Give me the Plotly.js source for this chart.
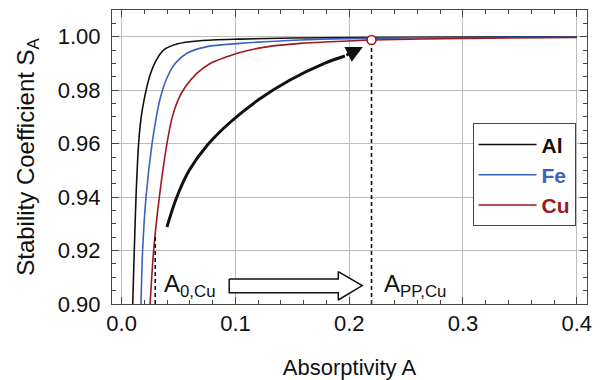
<!DOCTYPE html>
<html>
<head>
<meta charset="utf-8">
<script src="https://cdn.plot.ly/plotly-3.0.1.min.js"></script>
<style>html,body{margin:0;padding:0;background:#fff;}#chart{width:600px;height:380px;}</style>
</head>
<body>
<div id="chart"></div>
<script>
// Series names and colours
const seriesNames = ["Al", "Fe", "Cu"];
const seriesColors = ["#111111", "#3c62c0", "#9c1a1c"];

// Al
const alA = [0.0097, 0.0111, 0.0126, 0.0149, 0.0172, 0.0200, 0.0245, 0.0296, 0.0368, 0.0486, 0.069, 0.104, 0.15, 0.2, 0.3, 0.4];
const alS = [0.900, 0.920, 0.940, 0.960, 0.970, 0.977, 0.985, 0.9906, 0.995, 0.9973, 0.9985, 0.9991, 0.9995, 0.9997, 0.9999, 1.0];
// Fe
const feA = [0.0170, 0.0184, 0.0214, 0.0267, 0.0305, 0.0335, 0.0390, 0.0470, 0.0574, 0.0749, 0.104, 0.157, 0.2, 0.3, 0.4];
const feS = [0.900, 0.920, 0.940, 0.960, 0.970, 0.9763, 0.9838, 0.990, 0.9938, 0.9963, 0.9975, 0.9988, 0.9993, 0.9997, 0.9999];
// Cu
const cuA = [0.0250, 0.0281, 0.0331, 0.0398, 0.0445, 0.0495, 0.0560, 0.0661, 0.0778, 0.0925, 0.104, 0.1275, 0.157, 0.183, 0.2196, 0.3, 0.4];
const cuS = [0.900, 0.920, 0.940, 0.960, 0.970, 0.9763, 0.9813, 0.9863, 0.990, 0.9925, 0.9941, 0.9962, 0.9975, 0.9981, 0.99876, 0.9994, 0.9997];

// Annotation: curved arrow path
const arrowA = [0.0398, 0.0480, 0.0594, 0.0752, 0.0954, 0.1199, 0.1480, 0.1787, 0.1962];
const arrowS = [0.9288, 0.9395, 0.9500, 0.9594, 0.9680, 0.9763, 0.9838, 0.9901, 0.9928];
const arrowTip = [0.2120, 0.99614];

// Hollow block arrow outline
const blockA = [0.0945, 0.1904, 0.1904, 0.2114, 0.1904, 0.1904, 0.0945, 0.0945];
const blockS = [0.9094, 0.9094, 0.9121, 0.9069, 0.9015, 0.9042, 0.9042, 0.9094];

// Characteristic absorptivities of Cu
const a0Cu = [0.0295, 0.9255];   // A0,Cu and curve value
const appCu = [0.2196, 0.99876]; // APP,Cu and curve value

const xTicks = [0.0, 0.1, 0.2, 0.3, 0.4];
const yTicks = [0.90, 0.92, 0.94, 0.96, 0.98, 1.00];

const FONT = "Liberation Sans, Arial, Helvetica, sans-serif";

const curves = [[alA, alS], [feA, feS], [cuA, cuS]];
const traces = curves.map((c, i) => ({
  x: c[0], y: c[1], type: "scatter", mode: "lines",
  line: {color: seriesColors[i], width: 1.6, shape: "spline", smoothing: 0.8},
  name: '<b><span style="color:' + seriesColors[i] + '">' + seriesNames[i] + '</span></b>',
  hoverinfo: "skip"
}));

traces.push({
  x: [a0Cu[0], a0Cu[0]], y: [0.9, a0Cu[1]], type: "scatter", mode: "lines",
  line: {color: "#111", width: 1.6, dash: "4px,3px"}, showlegend: false, hoverinfo: "skip"
});
traces.push({
  x: [appCu[0], appCu[0]], y: [0.9, appCu[1]], type: "scatter", mode: "lines",
  line: {color: "#111", width: 1.6, dash: "4px,3px"}, showlegend: false, hoverinfo: "skip"
});
traces.push({
  x: arrowA, y: arrowS, type: "scatter", mode: "lines",
  line: {color: "#111", width: 3, shape: "spline", smoothing: 1}, showlegend: false, hoverinfo: "skip"
});
traces.push({
  x: blockA, y: blockS, type: "scatter", mode: "lines", fill: "toself",
  fillcolor: "#ffffff", line: {color: "#111", width: 1.5}, showlegend: false, hoverinfo: "skip"
});
traces.push({
  x: [appCu[0]], y: [appCu[1]], type: "scatter", mode: "markers",
  marker: {size: 9, color: "#ffffff", line: {color: seriesColors[2], width: 1.6}},
  showlegend: false, hoverinfo: "skip"
});

const layout = {
  width: 600, height: 380,
  margin: {l: 112, r: 13, t: 10, b: 76},
  paper_bgcolor: "#fff", plot_bgcolor: "#fff",
  font: {family: FONT, size: 22, color: "#111"},
  showlegend: true,
  legend: {
    x: 0.759, y: 0.6146, xanchor: "left", yanchor: "top",
    bgcolor: "#fff", bordercolor: "#444", borderwidth: 1,
    font: {family: FONT, size: 21}, itemwidth: 58, tracegroupgap: 0
  },
  xaxis: {
    range: [-0.0085, 0.409], tickvals: xTicks, ticktext: xTicks.map(v => v.toFixed(1)),
    ticks: "inside", ticklen: 7, tickcolor: "#444", mirror: "ticks",
    showline: true, linecolor: "#444", linewidth: 1,
    showgrid: true, gridcolor: "#bdbdbd", gridwidth: 1, zeroline: false,
    minor: {dtick: 0.02, tick0: 0, ticks: "inside", ticklen: 4, tickcolor: "#444", showgrid: false},
    tickfont: {size: 22},
    title: {text: "Absorptivity A", font: {size: 22}, standoff: 25}
  },
  yaxis: {
    range: [0.9, 1.01], tickvals: yTicks, ticktext: yTicks.map(v => v.toFixed(2)),
    ticks: "inside", ticklen: 7, tickcolor: "#444", mirror: "ticks",
    showline: true, linecolor: "#444", linewidth: 1,
    showgrid: true, gridcolor: "#bdbdbd", gridwidth: 1, zeroline: false,
    minor: {dtick: 0.005, tick0: 0.9, ticks: "inside", ticklen: 4, tickcolor: "#444", showgrid: false},
    tickfont: {size: 22}, ticklabelstandoff: 6,
    title: {text: "Stability Coefficient S<sub>A</sub>", font: {size: 24}, standoff: 16}
  },
  annotations: [
    {x: arrowTip[0], y: arrowTip[1], ax: arrowA[arrowA.length - 1], ay: arrowS[arrowS.length - 1],
     xref: "x", yref: "y", axref: "x", ayref: "y", text: "", showarrow: true,
     arrowhead: 2, arrowsize: 1.1, arrowwidth: 3, arrowcolor: "#111", standoff: 0},
    {x: 0.0355, y: 0.9069, xref: "x", yref: "y", xanchor: "left", yanchor: "middle",
     text: "A<sub>0,Cu</sub>", showarrow: false, font: {size: 24, color: "#111"}},
    {x: 0.2290, y: 0.9069, xref: "x", yref: "y", xanchor: "left", yanchor: "middle",
     text: "A<sub>PP,Cu</sub>", showarrow: false, font: {size: 24, color: "#111"}}
  ]
};

Plotly.newPlot("chart", traces, layout, {staticPlot: true, displayModeBar: false});
</script>
</body>
</html>
